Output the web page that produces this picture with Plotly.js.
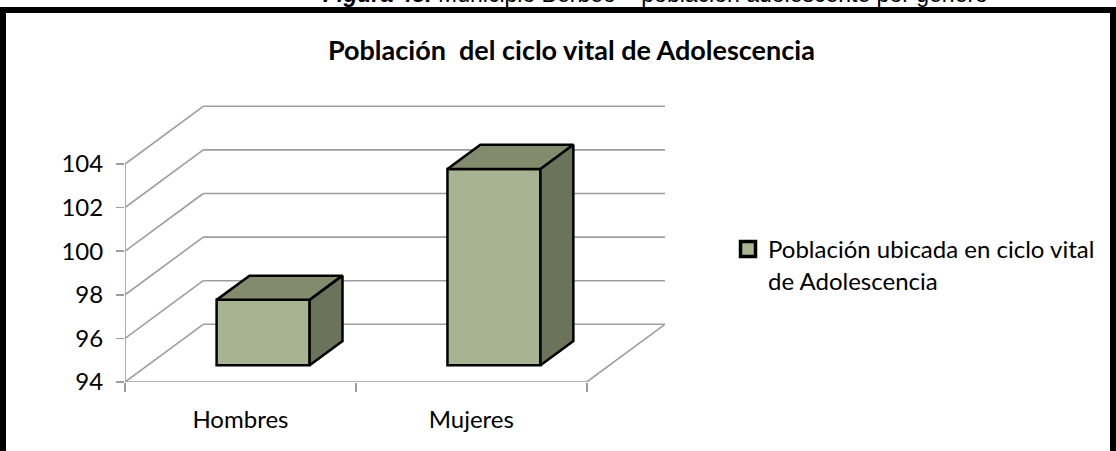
<!DOCTYPE html>
<html>
<head>
<meta charset="utf-8">
<script src="https://cdn.plot.ly/plotly-3.0.1.min.js"></script>
<style>
  html, body { margin: 0; padding: 0; background: #fff; overflow: hidden; }
  #chart { position: absolute; left: 0; top: 0; width: 1116px; height: 451px; }
  #frame { position: absolute; left: 0; top: 7px; width: 1104px; height: 470px;
           border: 6px solid #000; border-bottom: none; pointer-events: none; }
</style>
</head>
<body>
<div id="chart"></div>
<div id="frame"></div>
<script>
// ---- data ----
const categories = ['Hombres', 'Mujeres'];
const values = [97, 103];
const yTicks = [94, 96, 98, 100, 102, 104];
const seriesName = 'Población ubicada en ciclo vital<br>de Adolescencia';
const chartTitle = 'Población\u00A0 del ciclo vital de Adolescencia';
const caption = '<b><i>Figura 43.</i></b> Municipio Berbeo – población adolescente por género';

// ---- style / pseudo-3D geometry ----
const FONT = 'Lato, "Open Sans", sans-serif';
const GRID = '#9d9d9d';
const FRONT = '#a6b492';
const TOP = '#838b6f';
const SIDE = '#6b745b';
const DX = 0.339;   // depth in x units
const DY = 2.647;   // depth in y units
const F0 = 0.29, F1 = 0.71; // bar depth fractions
const BW = 0.403;   // bar width
const PXU = 21.8;   // px per y unit
const M = {l: 125, r: 451, t: 100, b: 69};
const plotH = 451 - M.t - M.b;
const plotW = 1116 - M.l - M.r;
const y0 = yTicks[0];
const yMax = yTicks[yTicks.length - 1];
const N = categories.length;
const catPx = 230.85;

const traces = [];
const base = y0 + F0 * DY;
const d = (F1 - F0) * DX, e = (F1 - F0) * DY;
const centers = categories.map((c, i) => i + 0.5 + F0 * DX);

// front faces as a bar trace
traces.push({
  type: 'bar', x: centers, y: values.map(v => v - y0), base: base,
  width: BW, name: seriesName,
  marker: {color: FRONT, line: {color: '#000', width: 2.5}},
  hoverinfo: 'skip', showlegend: false
});
// top and side faces
values.forEach((v, i) => {
  const xl = centers[i] - BW / 2, xr = centers[i] + BW / 2;
  const yt = base + (v - y0);
  traces.push({
    type: 'scatter', mode: 'lines', fill: 'toself', fillcolor: TOP,
    x: [xl, xr, xr + d, xl + d, xl], y: [yt, yt, yt + e, yt + e, yt],
    line: {color: '#000', width: 2.5}, showlegend: false, hoverinfo: 'skip'
  });
  traces.push({
    type: 'scatter', mode: 'lines', fill: 'toself', fillcolor: SIDE,
    x: [xr, xr + d, xr + d, xr, xr], y: [base, base + e, yt + e, yt, base],
    line: {color: '#000', width: 2.5}, showlegend: false, hoverinfo: 'skip'
  });
});
// legend entry for the series (same colours as the bars)
traces.push({
  type: 'scatter', mode: 'markers', x: [null], y: [null], name: seriesName,
  marker: {symbol: 'square', size: 15, color: FRONT, line: {color: '#000', width: 3.5}},
  showlegend: true, hoverinfo: 'skip'
});

// walls & floor
const shapes = [];
const ln = (x0, ya, x1, yb) => ({type: 'line', xref: 'x', yref: 'y', x0: x0, y0: ya, x1: x1, y1: yb,
  layer: 'below', line: {color: GRID, width: 1.6}});
yTicks.forEach(v => {
  shapes.push(ln(0, v, DX, v + DY));
  shapes.push(ln(DX, v + DY, N + DX, v + DY));
});
shapes.push(ln(0, y0, 0, yMax));
shapes.push(ln(0, y0, N, y0));
shapes.push(ln(N, y0, N + DX, y0 + DY));

const layout = {
  width: 1116, height: 451,
  margin: M,
  paper_bgcolor: '#fff', plot_bgcolor: 'rgba(0,0,0,0)',
  font: {family: FONT, color: '#000', size: 24},
  title: {text: chartTitle, font: {family: FONT, size: 27, color: '#000', weight: 'bold'},
          x: 0.512, xref: 'container', y: 0.889, yref: 'container', xanchor: 'center', yanchor: 'middle'},
  xaxis: {range: [0, plotW / catPx], tickmode: 'array', tickvals: categories.map((c, i) => i + 0.5),
          ticktext: categories, ticks: '', showline: false, showgrid: false, zeroline: false,
          tickfont: {family: FONT, size: 24, color: '#000'}, ticklabelstandoff: 21,
          minor: {tickmode: 'array', tickvals: categories.map((c, i) => i).concat([N]), ticks: 'outside',
                  ticklen: 9, tickcolor: GRID, tickwidth: 1.6, showgrid: false},
          fixedrange: true},
  yaxis: {range: [y0, y0 + plotH / PXU], tickmode: 'array', tickvals: yTicks, ticks: 'outside',
          ticklen: 8, tickcolor: GRID, tickwidth: 1.6, showline: false, showgrid: false, zeroline: false,
          tickfont: {family: FONT, size: 24, color: '#000'}, ticklabelstandoff: 8, fixedrange: true},
  showlegend: true,
  legend: {x: 1.1167, y: 0.55, xanchor: 'left', yanchor: 'top', valign: 'top',
           font: {family: FONT, size: 24, color: '#000'}, bgcolor: 'rgba(0,0,0,0)', itemclick: false},
  shapes: shapes,
  annotations: [{text: caption, xref: 'paper', yref: 'paper', x: 0.983, y: (382 - 9) / plotH,
                 xanchor: 'center', yanchor: 'bottom', showarrow: false,
                 font: {family: '"Liberation Sans", Arial, sans-serif', size: 23, color: '#000'}}],
  bargap: 0
};

Plotly.newPlot('chart', traces, layout, {displayModeBar: false, staticPlot: true});
</script>
</body>
</html>
